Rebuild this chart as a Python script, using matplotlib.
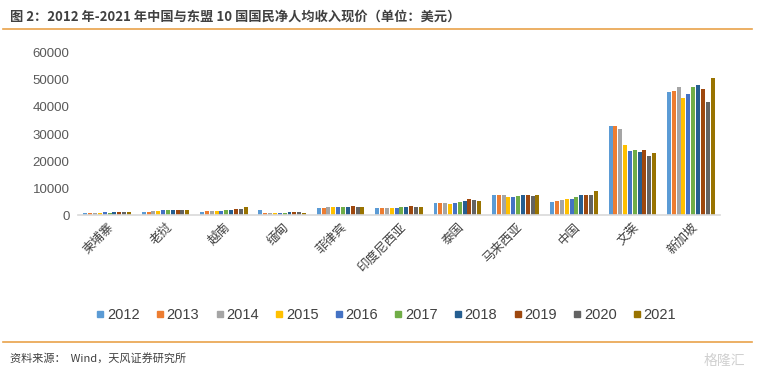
import numpy as np
import matplotlib
matplotlib.use("Agg")
import matplotlib.pyplot as plt
from matplotlib.lines import Line2D

plt.rcParams['font.family'] = ['Noto Sans CJK SC', 'DejaVu Sans']

countries = ['柬埔寨', '老挝', '越南', '缅甸', '菲律宾', '印度尼西亚', '泰国', '马来西亚', '中国', '文莱', '新加坡']
years = ['2012', '2013', '2014', '2015', '2016', '2017', '2018', '2019', '2020', '2021']
colors = ['#5B9BD5', '#ED7D31', '#A5A5A5', '#FFC000', '#4472C4',
          '#70AD47', '#255E91', '#9E480E', '#636363', '#997300']

# rows = countries, columns = years (USD)
cambodia = [750, 780, 820, 850, 1100, 900, 1100, 1150, 1100, 1150]
laos = [1100, 1200, 1400, 1600, 1700, 1850, 1950, 2000, 2000, 1950]
vietnam = [1300, 1450, 1450, 1500, 1600, 1850, 1900, 2100, 2250, 2850]
myanmar = [1700, 800, 850, 900, 850, 900, 1000, 1100, 1100, 900]
philippines = [2600, 2800, 2900, 2950, 2950, 2950, 3000, 3300, 3000, 3000]
indonesia = [2600, 2600, 2600, 2600, 2600, 2900, 2900, 3300, 2950, 2950]
thailand = [4400, 4400, 4400, 4000, 4400, 4800, 5200, 5900, 5500, 5200]
malaysia = [7300, 7300, 7600, 6600, 6600, 6900, 7300, 7600, 6900, 7600]
china = [4800, 5100, 5500, 5900, 5900, 6600, 7300, 7300, 7300, 8800]
brunei = [33000, 33000, 31800, 26000, 23600, 24000, 23300, 24000, 21800, 22900]
singapore = [45600, 46000, 47400, 43300, 44900, 47400, 48300, 46700, 41900, 50800]

data = np.array([cambodia, laos, vietnam, myanmar, philippines, indonesia,
                 thailand, malaysia, china, brunei, singapore])

fig = plt.figure(figsize=(7.57, 3.78), dpi=100)
ax = fig.add_axes([0.103, 0.431, 0.848, 0.429])

x = np.arange(len(countries))
step = 0.083
width = 0.068
for j, yr in enumerate(years):
    ax.bar(x + (j - 4.5) * step, data[:, j], width=width, color=colors[j], label=yr)

ax.set_xlim(-0.5, len(countries) - 0.5)
ax.set_ylim(0, 60000)
ax.set_yticks(np.arange(0, 60001, 10000))
ax.set_yticklabels([str(v) for v in range(0, 60001, 10000)],
                   fontsize=9.5, color='#595959', family='Liberation Sans')
ax.tick_params(axis='y', length=0, pad=6)
ax.set_xticks(x)
ax.set_xticklabels(countries, rotation=45, ha='right', va='top',
                   rotation_mode='anchor', fontsize=9, color='#404040')
ax.tick_params(axis='x', length=0, pad=4)
for s in ['top', 'right', 'left']:
    ax.spines[s].set_visible(False)
ax.spines['bottom'].set_color('#D9D9D9')
ax.spines['bottom'].set_linewidth(1.2)

handles = [Line2D([], [], marker='s', linestyle='none', markersize=5,
                  markerfacecolor=c, markeredgecolor=c) for c in colors]
fig.legend(handles, years, loc='center', bbox_to_anchor=(0.51, 0.167), ncol=10,
           frameon=False, handlelength=0.6, handletextpad=0.15, columnspacing=1.1,
           prop={'family': 'Liberation Sans', 'size': 10.5}, labelcolor='#404040')

# title, rules and source
fig.text(0.013, 0.955, '图 2：2012 年-2021 年中国与东盟 10 国国民净人均收入现价（单位：美元）',
         fontsize=9.5, fontweight='bold', color='#404040', va='center', ha='left')
fig.add_artist(Line2D([0.004, 0.994], [0.922, 0.922], color='#E9A24A', linewidth=1.2))
fig.add_artist(Line2D([0.004, 0.994], [0.095, 0.095], color='#E9A24A', linewidth=1.2))
fig.text(0.013, 0.053, '资料来源：  Wind，天风证券研究所', fontsize=8,
         color='#404040', va='center', ha='left')
fig.text(0.985, 0.045, '格隆汇', fontsize=10, color='#D0D0D0', va='center', ha='right')

fig.savefig('out.png', dpi=100, facecolor='white')
